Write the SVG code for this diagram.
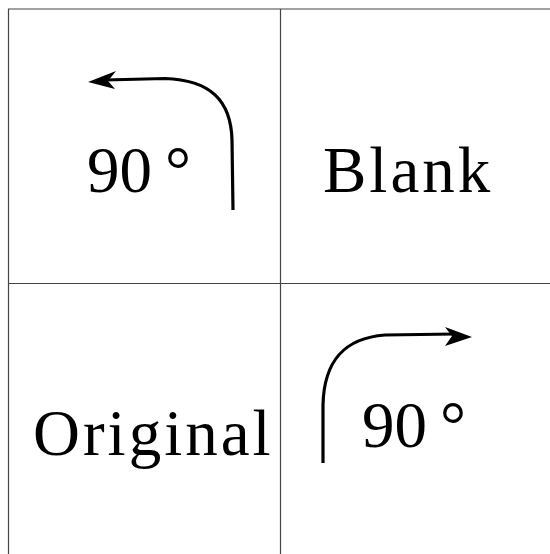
<svg xmlns="http://www.w3.org/2000/svg" width="550" height="554" viewBox="0 0 550 554">
<style>
.grid{stroke:#444;stroke-width:1.2;fill:none}
.lbl{font-family:"Liberation Serif","Times New Roman",serif;font-size:65px;fill:#000}
.word{letter-spacing:3px}
.arr{stroke:#000;stroke-width:3.2;fill:none;stroke-linecap:butt}
.head{fill:#000}
</style>
<rect width="550" height="554" fill="#fff"/>
<g id="grid">
<line class="grid" x1="8" y1="9" x2="550" y2="9"/>
<line class="grid" x1="8.5" y1="9" x2="8.5" y2="554"/>
<line class="grid" x1="280.5" y1="9" x2="280.5" y2="554"/>
<line class="grid" x1="8" y1="283.5" x2="550" y2="283.5"/>
</g>
<g id="cell-topleft">
<text class="lbl" x="87" y="192">90<tspan dx="13">°</tspan></text>
</g>
<g id="cell-topright">
<text class="lbl word" x="323" y="192">Blank</text>
</g>
<g id="cell-bottomleft">
<text class="lbl word" x="33" y="455">Original</text>
</g>
<g id="cell-bottomright">
<text class="lbl" x="362" y="447">90<tspan dx="13">°</tspan></text>
</g>
<g id="connectors">
<path class="arr" d="M233,210 L232,140 C231,100 210,80 165,78.5 L105,80"/>
<polygon class="head" points="88,82 116,71 108,81 115,89"/>
<path class="arr" d="M323,463 L323,405 C324,360 345,338 385,335 L455,334"/>
<polygon class="head" points="472,337 445,327 452,336 445,346"/>
</g>
</svg>
